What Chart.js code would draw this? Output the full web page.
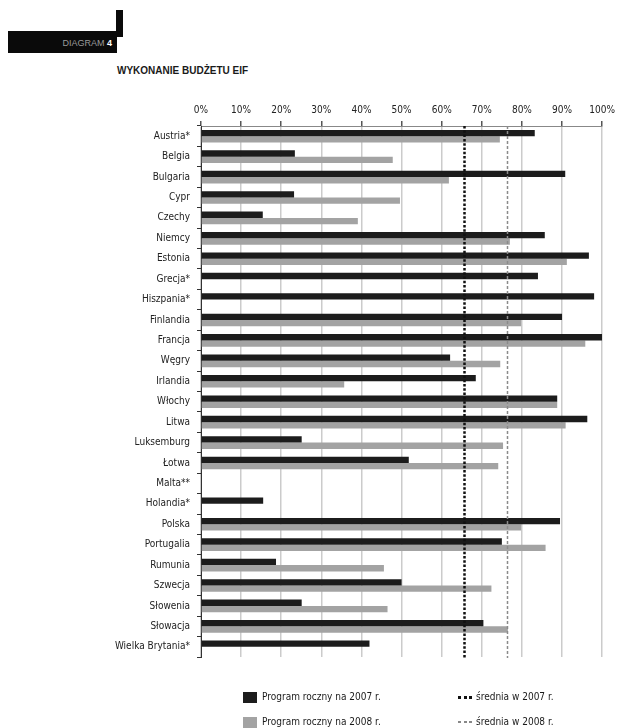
<!DOCTYPE html>
<html><head><meta charset="utf-8">
<script src="https://cdn.jsdelivr.net/npm/chart.js@4.4.1/dist/chart.umd.min.js"></script>
<style>
body{margin:0;background:#fff;width:620px;height:728px;overflow:hidden;position:relative;font-family:'Liberation Sans Narrow','DejaVu Sans Condensed',sans-serif;color:#222;}
#c{position:absolute;left:0;top:0;}
.abs{position:absolute;}
#hdrbar{left:8px;top:31px;width:109px;height:22px;background:#0a0a0a;}
#hdrstub{left:116px;top:10px;width:7px;height:27px;background:#0a0a0a;}
#hdrtxt{left:8px;top:36px;width:104px;text-align:right;font:9px 'Liberation Sans',sans-serif;color:#9a9a9a;line-height:14px;}
#hdrtxt b{color:#fff;}
#title{left:117px;top:64px;font:bold 10px 'Liberation Sans',sans-serif;line-height:14px;color:#1a1a1a;white-space:nowrap;}
.sq{width:14px;height:11px;}
.lt{font-size:10px;line-height:14px;white-space:nowrap;color:#1a1a1a;}
</style></head><body>
<div id="hdrbar" class="abs"></div><div id="hdrstub" class="abs"></div>
<div id="hdrtxt" class="abs">DIAGRAM <b>4</b></div>
<div id="title" class="abs">WYKONANIE BUDŻETU EIF</div>
<canvas id="c" width="620" height="728"></canvas>
<div class="abs sq" style="left:243px;top:692px;background:#1c1c1c"></div>
<div class="abs lt" style="left:262px;top:690px">Program roczny na 2007 r.</div>
<div class="abs sq" style="left:243px;top:717px;background:#a3a3a3"></div>
<div class="abs lt" style="left:262px;top:715px">Program roczny na 2008 r.</div>
<div class="abs" style="left:458px;top:696px;width:16px;height:2.5px;background:repeating-linear-gradient(90deg,#111 0 3px,transparent 3px 5.5px)"></div>
<div class="abs lt" style="left:476px;top:690px">średnia w 2007 r.</div>
<div class="abs" style="left:458px;top:721px;width:16px;height:1.5px;background:repeating-linear-gradient(90deg,#888 0 3px,transparent 3px 5.5px)"></div>
<div class="abs lt" style="left:476px;top:715px">średnia w 2008 r.</div>
<script>
const categories = ['Austria*','Belgia','Bulgaria','Cypr','Czechy','Niemcy','Estonia','Grecja*','Hiszpania*','Finlandia','Francja','Węgry','Irlandia','Włochy','Litwa','Luksemburg','Łotwa','Malta**','Holandia*','Polska','Portugalia','Rumunia','Szwecja','Słowenia','Słowacja','Wielka Brytania*'];
const program2007 = [83.2,23.4,90.8,23.2,15.4,85.7,96.7,84.0,98.0,90.0,100,62.1,68.5,88.8,96.3,25.1,51.8,null,15.5,89.5,75.0,18.7,50.0,25.1,70.4,42.0];
const program2008 = [74.5,47.8,61.8,49.6,39.1,77.0,91.2,null,null,79.8,95.8,74.6,35.7,88.8,90.9,75.3,74.1,null,null,79.8,85.9,45.6,72.4,46.5,76.5,null];
const avg2007 = 65.5;
const avg2008 = 76.2;
const tickLabels = ['0%','10%','20%','30%','40%','50%','60%','70%','80%','90%','100%'];
const FONT = "'Liberation Sans Narrow','DejaVu Sans Condensed',sans-serif";

const avgPlugin = {
  id:'avgLines',
  afterDatasetsDraw(chart){
    const {ctx, chartArea:a, scales:{x}} = chart;
    const lines = [
      {v:avg2007, color:'#111', w:2.5, dash:[2.5,1.8]},
      {v:avg2008, color:'#8a8a8a', w:1.5, dash:[3,2]}
    ];
    ctx.save();
    lines.forEach(l=>{
      const px = Math.round(x.getPixelForValue(l.v))+0.5;
      ctx.beginPath();
      ctx.strokeStyle = l.color; ctx.lineWidth = l.w; ctx.setLineDash(l.dash);
      ctx.moveTo(px, a.top); ctx.lineTo(px, a.bottom+1);
      ctx.stroke();
    });
    ctx.restore();
  }
};

new Chart(document.getElementById('c'), {
  type:'bar',
  data:{labels:categories, datasets:[
    {label:'Program roczny na 2007 r.', data:program2007, backgroundColor:'#1c1c1c', categoryPercentage:0.62, barPercentage:1.0},
    {label:'Program roczny na 2008 r.', data:program2008, backgroundColor:'#a3a3a3', categoryPercentage:0.62, barPercentage:1.0}
  ]},
  options:{
    indexAxis:'y', responsive:false, animation:false, devicePixelRatio:1,
    layout:{padding:{left:0,right:11,top:0,bottom:71}},
    plugins:{legend:{display:false}, tooltip:{enabled:false}},
    scales:{
      x:{position:'top', min:0, max:100,
        ticks:{stepSize:10, callback:(v,i)=>tickLabels[i], font:{size:10,family:FONT}, color:'#222', padding:5, maxRotation:0},
        grid:{display:true, drawOnChartArea:true, color:'#cbcbcb', tickColor:'#555', tickLength:5, lineWidth:1.5},
        border:{color:'#888'},
        afterFit(s){ s.height = 126; }
      },
      y:{
        ticks:{font:{size:10,family:FONT}, color:'#222', padding:7, autoSkip:false},
        grid:{offset:true, drawOnChartArea:false, tickColor:'#333', tickLength:4},
        border:{color:'#333'},
        afterFit(s){ s.width = 201; }
      }
    }
  },
  plugins:[avgPlugin]
});
</script>
</body></html>
